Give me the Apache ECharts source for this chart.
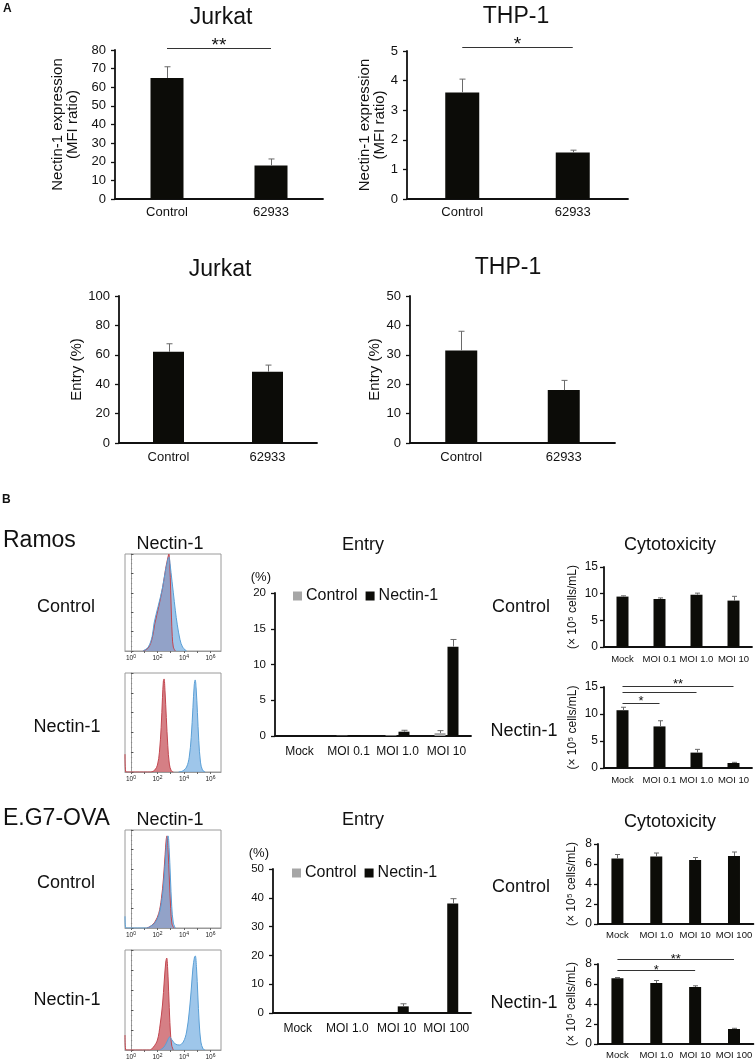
<!DOCTYPE html>
<html><head><meta charset="utf-8">
<script src="https://cdn.jsdelivr.net/npm/echarts@6/dist/echarts.min.js"></script>
<style>html,body{margin:0;padding:0;background:#fff}#c{width:755px;height:1062px}</style>
</head><body><div id="c"></div>
<script>
const FONT = '"Liberation Sans", Arial, sans-serif';
const INK = '#111';
const BAR = '#0c0c08';
const GRAY = '#a6a6a6';

// ---------- Panel A ----------
const panelACats = ['Control', '62933'];
const jurkatMFI = [65, 18];
const jurkatMFIErr = [6, 3.5];
const thpMFI = [3.6, 1.57];
const thpMFIErr = [0.45, 0.08];
const jurkatEntry = [62, 48.5];
const jurkatEntryErr = [5.5, 4.5];
const thpEntry = [31.5, 18];
const thpEntryErr = [6.5, 3.3];
// significance: [fromIndex, toIndex, level, label]
const jurkatSig = [[0, 1, 81.2, '**']];
const thpSig = [[0, 1, 5.13, '*']];

// ---------- Panel B: histograms (log10 fluorescence, relative count) ----------
const histTicks = [0, 2, 4, 6];
const ramosCtrlIso = [[0.9,0],[1.3,0.03],[1.6,0.13],[1.8,0.28],[2.1,0.46],[2.4,0.66],[2.62,0.85],[2.8,0.97],[2.86,1.0],[2.93,0.9],[3.0,0.62],[3.06,0.35],[3.12,0.15],[3.2,0.04],[3.35,0]];
const ramosCtrlNec = [[0.9,0],[1.3,0.04],[1.6,0.15],[1.75,0.29],[2.05,0.46],[2.35,0.63],[2.6,0.82],[2.8,0.95],[2.87,0.97],[2.95,0.9],[3.1,0.72],[3.2,0.6],[3.35,0.42],[3.5,0.27],[3.7,0.12],[3.9,0.04],[4.2,0]];
const ramosNecIso = [[-0.45,0.18],[-0.38,0],[1.5,0],[1.8,0.02],[2.0,0.07],[2.15,0.2],[2.28,0.45],[2.38,0.75],[2.45,0.92],[2.5,0.94],[2.57,0.82],[2.67,0.55],[2.78,0.27],[2.9,0.08],[3.05,0.01],[3.2,0]];
const ramosNecNec = [[3.6,0],[3.9,0.01],[4.2,0.05],[4.4,0.15],[4.55,0.35],[4.68,0.65],[4.78,0.88],[4.85,0.93],[4.92,0.85],[5.02,0.6],[5.12,0.32],[5.25,0.1],[5.4,0.02],[5.6,0]];
const eg7CtrlIso = [[1.2,0],[1.5,0.02],[1.8,0.06],[2.1,0.15],[2.3,0.3],[2.45,0.5],[2.58,0.75],[2.66,0.9],[2.72,0.94],[2.8,0.8],[2.9,0.5],[3.0,0.2],[3.1,0.04],[3.25,0]];
const eg7CtrlNec = [[-0.45,0.12],[-0.38,0],[1.2,0],[1.5,0.02],[1.8,0.05],[2.1,0.13],[2.35,0.3],[2.5,0.5],[2.63,0.75],[2.72,0.9],[2.8,0.94],[2.88,0.82],[2.98,0.52],[3.08,0.22],[3.2,0.05],[3.35,0]];
const eg7NecIso = [[-0.45,0.15],[-0.38,0],[1.4,0],[1.7,0.03],[2.0,0.1],[2.2,0.25],[2.38,0.45],[2.52,0.7],[2.63,0.88],[2.7,0.92],[2.77,0.82],[2.87,0.5],[2.97,0.2],[3.07,0.05],[3.2,0]];
const eg7NecNec = [[2.2,0],[2.5,0.03],[2.75,0.09],[2.92,0.13],[3.1,0.1],[3.35,0.06],[3.65,0.05],[3.95,0.08],[4.2,0.18],[4.4,0.38],[4.55,0.6],[4.68,0.82],[4.8,0.93],[4.86,0.94],[4.95,0.82],[5.05,0.55],[5.15,0.28],[5.28,0.08],[5.45,0.01],[5.6,0]];

// ---------- Panel B: entry ----------
const ramosCats = ['Mock', 'MOI 0.1', 'MOI 1.0', 'MOI 10'];
const eg7Cats = ['Mock', 'MOI 1.0', 'MOI 10', 'MOI 100'];
const ramosEntryCtrl = [0, 0.05, 0.1, 0.4];
const ramosEntryCtrlErr = [0, 0, 0, 0.35];
const ramosEntryNec = [0, 0.1, 0.6, 12.5];
const ramosEntryNecErr = [0, 0, 0.2, 1.0];
const eg7EntryCtrl = [0, 0, 0, 0];
const eg7EntryCtrlErr = [0, 0, 0, 0];
const eg7EntryNec = [0, 0, 2.3, 38];
const eg7EntryNecErr = [0, 0, 0.9, 1.7];

// ---------- Panel B: cytotoxicity (x10^5 cells/mL) ----------
const ramosCytoCtrl = [9.45, 9.0, 9.8, 8.7];
const ramosCytoCtrlErr = [0.15, 0.2, 0.3, 0.8];
const ramosCytoNec = [10.7, 7.7, 2.85, 0.93];
const ramosCytoNecErr = [0.55, 1.05, 0.6, 0.12];
const eg7CytoCtrl = [6.55, 6.75, 6.4, 6.8];
const eg7CytoCtrlErr = [0.4, 0.35, 0.25, 0.4];
const eg7CytoNec = [6.57, 6.1, 5.7, 1.5];
const eg7CytoNecErr = [0.08, 0.25, 0.12, 0.07];
const ramosCytoSig = [[0, 3, 15.2, '**'], [0, 2, 14.1, ''], [0, 1, 12.0, '*']];
const eg7CytoSig = [[0, 3, 8.5, '**'], [0, 2, 7.4, '*']];

// ---------- layout ----------
const grids = [
  {left:115, top:50,  width:208, height:149},  // 0 Jurkat MFI
  {left:407, top:51,  width:221, height:148},  // 1 THP-1 MFI
  {left:119, top:296, width:198, height:147},  // 2 Jurkat entry
  {left:410, top:296, width:205, height:147},  // 3 THP-1 entry
  {left:125, top:554, width:96,  height:97, show:true, borderColor:'#9a9a9a', borderWidth:1}, // 4
  {left:125, top:673, width:96,  height:99, show:true, borderColor:'#9a9a9a', borderWidth:1}, // 5
  {left:125, top:830, width:96,  height:98, show:true, borderColor:'#9a9a9a', borderWidth:1}, // 6
  {left:125, top:950, width:96,  height:100, show:true, borderColor:'#9a9a9a', borderWidth:1}, // 7
  {left:275, top:593, width:196, height:143},  // 8 Ramos entry
  {left:273, top:869, width:198, height:144},  // 9 EG7 entry
  {left:604, top:567, width:148, height:80},   // 10 Ramos cyto ctrl
  {left:604, top:687, width:148, height:81},   // 11 Ramos cyto nec
  {left:598, top:844, width:157, height:80},   // 12 EG7 cyto ctrl
  {left:598, top:964, width:157, height:80}    // 13 EG7 cyto nec
];

const xAxes = [], yAxes = [], series = [];

function catX(gi, cats, fs, margin) {
  xAxes.push({type:'category', gridIndex:gi, data:cats,
    axisLine:{lineStyle:{color:INK, width:1.8}}, axisTick:{show:false},
    axisLabel:{fontSize:fs, fontFamily:FONT, color:INK, margin:margin, interval:0}});
}
function valY(gi, max, interval, fs, margin, name, nameGap, nameFs, extra) {
  const ax = {type:'value', gridIndex:gi, min:0, max:max, interval:interval,
    axisLine:{show:true, lineStyle:{color:INK, width:1.8}},
    axisTick:{show:true, length:4, lineStyle:{color:INK, width:1.3}},
    splitLine:{show:false},
    axisLabel:{fontSize:fs, fontFamily:FONT, color:INK, margin:margin}};
  if (name) {
    ax.name = name; ax.nameLocation = 'middle'; ax.nameRotate = 90; ax.nameGap = nameGap;
    ax.nameTextStyle = {fontSize:nameFs, fontFamily:FONT, color:INK, lineHeight:nameFs};
  }
  Object.assign(ax, extra || {});
  yAxes.push(ax);
}
function bars(gi, vals, width, color, name, extra) {
  series.push(Object.assign({type:'bar', name:name, xAxisIndex:gi, yAxisIndex:gi, data:vals,
    barWidth:width, itemStyle:{color:color}, silent:true}, extra || {}));
}
function errs(gi, vals, errv, offset, cap) {
  series.push({type:'custom', xAxisIndex:gi, yAxisIndex:gi, z:4, clip:false, silent:true,
    data: vals.map((v, i) => [i, v, errv[i]]),
    encode:{x:0, y:1},
    renderItem(params, api) {
      const i = params.dataIndex, v = vals[i], e = errv[i];
      if (!(e > 0)) return null;
      const p0 = api.coord([i, v]), p1 = api.coord([i, v + e]);
      const x = Math.round(p0[0] + offset) + 0.5;
      return {type:'group', children:[
        {type:'line', shape:{x1:x, y1:p0[1], x2:x, y2:p1[1]}, style:{stroke:'#6a6a6a', lineWidth:1}},
        {type:'line', shape:{x1:x - cap, y1:p1[1], x2:x + cap, y2:p1[1]}, style:{stroke:'#6a6a6a', lineWidth:1}}
      ]};
    }});
}
function sig(gi, sigs, fs, dy) {
  series.push({type:'custom', xAxisIndex:gi, yAxisIndex:gi, z:5, clip:false, silent:true,
    data: sigs.map(s => [s[0], s[1], s[2]]),
    encode:{x:[0, 1], y:2},
    renderItem(params, api) {
      const s = sigs[params.dataIndex];
      const a = api.coord([s[0], s[2]]), b = api.coord([s[1], s[2]]);
      const y = Math.round(a[1]) + 0.5;
      const ch = [{type:'line', shape:{x1:a[0], y1:y, x2:b[0], y2:y}, style:{stroke:'#333', lineWidth:1.2}}];
      if (s[3]) ch.push({type:'text', x:(a[0] + b[0]) / 2, y:y + dy,
        style:{text:s[3], fontSize:fs, fontFamily:FONT, fill:INK, align:'center', verticalAlign:'middle'}});
      return {type:'group', children:ch};
    }});
}
function histAxes(gi) {
  xAxes.push({type:'value', gridIndex:gi, min:-0.45, max:6.8,
    axisLine:{show:true, lineStyle:{color:'#9a9a9a', width:1}},
    axisTick:{show:true, customValues:[0,1,2,3,4,5,6], length:2, lineStyle:{color:'#666'}},
    splitLine:{show:false},
    axisLabel:{customValues:histTicks, fontSize:6.5, fontFamily:FONT, color:'#222', margin:3,
      formatter: v => '{b|10}{s|' + v + '}',
      rich:{b:{fontSize:6.5, fontFamily:FONT, color:'#222'}, s:{fontSize:5, fontFamily:FONT, color:'#222', verticalAlign:'top', padding:[0,0,4,0]}}}});
  yAxes.push({type:'value', gridIndex:gi, min:0, max:1, interval:0.2,
    axisLine:{show:true, lineStyle:{color:'#9a9a9a', width:1}},
    axisTick:{show:true, inside:true, length:2.5, lineStyle:{color:'#555'}},
    minorTick:{show:true, splitNumber:4, length:1.2, lineStyle:{color:'#888'}},
    splitLine:{show:false}, axisLabel:{show:false}});
}
function curve(gi, pts, line, fill) {
  series.push({type:'line', xAxisIndex:gi, yAxisIndex:gi, data:pts, smooth:0.35, symbol:'none', silent:true,
    lineStyle:{color:line, width:1}, areaStyle:{color:fill, opacity:1}});
}

// Panel A
catX(0, panelACats, 13, 7);
valY(0, 80, 10, 13, 9, 'Nectin-1 expression\n(MFI ratio)', 35, 15);
bars(0, jurkatMFI, 33, BAR); errs(0, jurkatMFI, jurkatMFIErr, 0, 3); sig(0, jurkatSig, 19, -3);

catX(1, panelACats, 13, 7);
valY(1, 5, 1, 13, 9, 'Nectin-1 expression\n(MFI ratio)', 20, 15);
bars(1, thpMFI, 34, BAR); errs(1, thpMFI, thpMFIErr, 0, 3); sig(1, thpSig, 19, -3);

catX(2, panelACats, 13, 8);
valY(2, 100, 20, 13, 9, 'Entry (%)', 29, 15);
bars(2, jurkatEntry, 31, BAR); errs(2, jurkatEntry, jurkatEntryErr, 0, 3);

catX(3, panelACats, 13, 8);
valY(3, 50, 10, 13, 9, 'Entry (%)', 28, 15);
bars(3, thpEntry, 32, BAR); errs(3, thpEntry, thpEntryErr, 0, 3);

// Histograms
[4,5,6,7].forEach(histAxes);
const RED_L = '#c2464f', RED_F = 'rgba(206,104,112,0.85)';
const BLU_L = '#5a9fd6', BLU_F = 'rgba(120,176,226,0.72)';
curve(4, ramosCtrlIso, RED_L, RED_F); curve(4, ramosCtrlNec, BLU_L, BLU_F);
curve(5, ramosNecIso, RED_L, RED_F); curve(5, ramosNecNec, BLU_L, BLU_F);
curve(6, eg7CtrlIso, RED_L, RED_F); curve(6, eg7CtrlNec, BLU_L, BLU_F);
curve(7, eg7NecIso, RED_L, RED_F); curve(7, eg7NecNec, BLU_L, BLU_F);

// Entry B
const entryYName = {name:'(%)', nameLocation:'end', nameGap:9,
  nameTextStyle:{fontSize:13, fontFamily:FONT, color:INK, align:'right', padding:[0,4,0,0]}};
catX(8, ramosCats, 12, 10);
valY(8, 20, 5, 11.5, 9, null, 0, 0, entryYName);
bars(8, ramosEntryCtrl, 11, GRAY, 'Control', {barGap:'18%'});
bars(8, ramosEntryNec, 11, BAR, 'Nectin-1', {barGap:'18%'});
errs(8, ramosEntryCtrl, ramosEntryCtrlErr, -6.5, 3); errs(8, ramosEntryNec, ramosEntryNecErr, 6.5, 3);

catX(9, eg7Cats, 12, 10);
valY(9, 50, 10, 11.5, 9, null, 0, 0, entryYName);
bars(9, eg7EntryCtrl, 11, GRAY, 'Control', {barGap:'18%'});
bars(9, eg7EntryNec, 11, BAR, 'Nectin-1', {barGap:'18%'});
errs(9, eg7EntryCtrl, eg7EntryCtrlErr, -6.5, 3); errs(9, eg7EntryNec, eg7EntryNecErr, 6.5, 3);

// Cytotoxicity
const cytoName = '(× 10⁵ cells/mL)';
catX(10, ramosCats, 9.5, 7);
valY(10, 15, 5, 12, 6, cytoName, 25, 12);
bars(10, ramosCytoCtrl, 12, BAR); errs(10, ramosCytoCtrl, ramosCytoCtrlErr, 0, 2.5);

catX(11, ramosCats, 9.5, 7);
valY(11, 15, 5, 12, 6, cytoName, 25, 12);
bars(11, ramosCytoNec, 12, BAR); errs(11, ramosCytoNec, ramosCytoNecErr, 0, 2.5); sig(11, ramosCytoSig, 13, -2);

catX(12, eg7Cats, 9.5, 6);
valY(12, 8, 2, 12, 6, cytoName, 20, 12);
bars(12, eg7CytoCtrl, 12, BAR); errs(12, eg7CytoCtrl, eg7CytoCtrlErr, 0, 2.5);

catX(13, eg7Cats, 9.5, 6);
valY(13, 8, 2, 12, 6, cytoName, 20, 12);
bars(13, eg7CytoNec, 12, BAR); errs(13, eg7CytoNec, eg7CytoNecErr, 0, 2.5); sig(13, eg7CytoSig, 13, 0);

// titles
function T(text, x, y, fs, weight) {
  return {text:text, left:x, top:y, textAlign:'center', textVerticalAlign:'middle', padding:0,
    textStyle:{fontSize:fs, fontFamily:FONT, color:INK, fontWeight:weight || 'normal'}};
}
function L(text, x, y, fs, weight) {
  return {text:text, left:x, top:y, textAlign:'left', textVerticalAlign:'middle', padding:0,
    textStyle:{fontSize:fs, fontFamily:FONT, color:INK, fontWeight:weight || 'normal'}};
}
const titles = [
  L('A', 3, 9, 12, 'bold'),
  T('Jurkat', 221, 18, 23), T('THP-1', 516, 17, 23),
  T('Jurkat', 220, 270, 23), T('THP-1', 508, 268, 23),
  L('B', 2, 500, 12, 'bold'),
  L('Ramos', 3, 541, 23),
  T('Nectin-1', 170, 544, 18), T('Entry', 363, 545, 18), T('Cytotoxicity', 670, 545, 18),
  T('Control', 66, 607, 18), T('Nectin-1', 67, 727, 18),
  T('Control', 521, 607, 18), T('Nectin-1', 524, 731, 18),
  L('E.G7-OVA', 3, 819, 23),
  T('Nectin-1', 170, 820, 18), T('Entry', 363, 820, 18), T('Cytotoxicity', 670, 822, 18),
  T('Control', 66, 883, 18), T('Nectin-1', 67, 1000, 18),
  T('Control', 521, 887, 18), T('Nectin-1', 524, 1003, 18)
];

const legendBase = {data:['Control', 'Nectin-1'], icon:'rect', itemWidth:9, itemHeight:9, itemGap:8,
  padding:0, selectedMode:false, textStyle:{fontSize:16, fontFamily:FONT, color:INK, padding:[0,0,0,-1]}};

const chart = echarts.init(document.getElementById('c'), null, {renderer:'canvas'});
chart.setOption({
  backgroundColor:'#fff',
  animation:false,
  title:titles,
  legend:[Object.assign({left:293, top:588}, legendBase), Object.assign({left:292, top:865}, legendBase)],
  grid:grids,
  xAxis:xAxes,
  yAxis:yAxes,
  series:series
});
</script></body></html>
